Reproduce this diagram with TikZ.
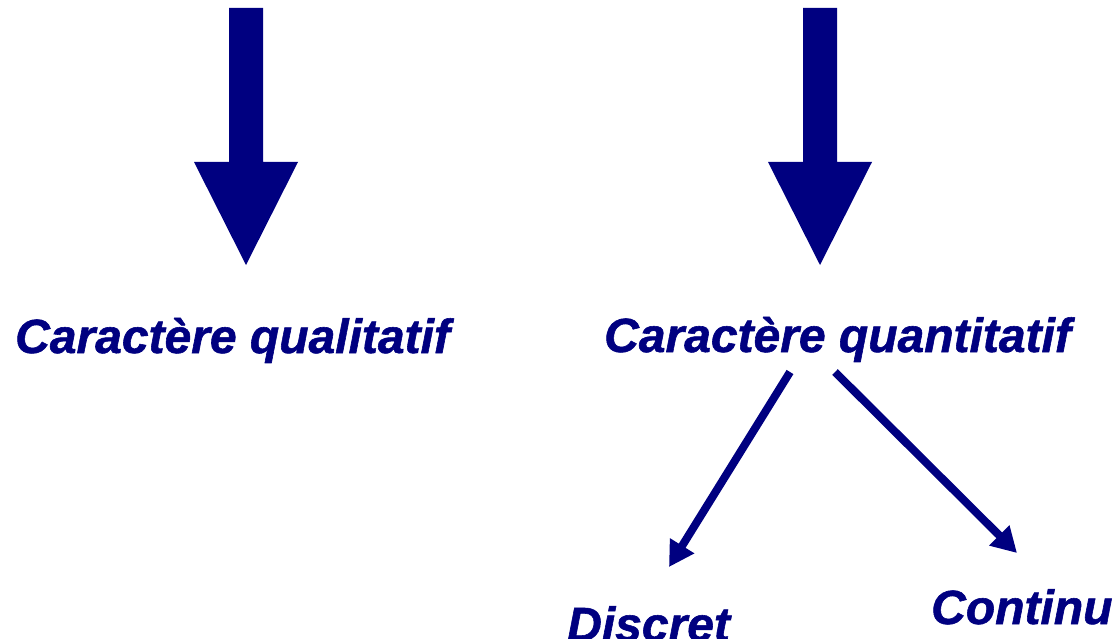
\documentclass[tikz,border=0pt]{standalone}
\usepackage{fontspec}
\setmainfont{Liberation Sans}[BoldItalicFeatures={FakeBold=1.2}]
\usetikzlibrary{arrows.meta}
\definecolor{navyblue}{RGB}{0,0,128}
\begin{document}
\begin{tikzpicture}[x=1pt,y=-1pt,
  label text/.style={anchor=base west,inner sep=0pt,text=navyblue,
    font=\fontsize{48}{56}\selectfont\bfseries\itshape},
  big arrow/.style={fill=navyblue,draw=none},
  thin arrow/.style={draw=navyblue,line width=8pt,
    -{Triangle[length=25pt,width=27pt]}}]
\useasboundingbox (0,0) rectangle (1119,639);
% big block arrows
\fill[big arrow] (229,8) -- (263,8) -- (263,162) -- (298,162) -- (246,265)
  -- (194,162) -- (229,162) -- cycle;
\fill[big arrow] (803,8) -- (837,8) -- (837,162) -- (872,162) -- (820,265)
  -- (768,162) -- (803,162) -- cycle;
% labels
\node[label text] (qual) at (15,353) {Caractère qualitatif};
\node[label text] (quant) at (604,352) {Caractère quantitatif};
\node[label text] (disc) at (567,641) {Discret};
\node[label text] (cont) at (931,624) {Continu};
% connectors
\coordinate (s1) at (790,372);
\coordinate (e1) at (669,567);
\coordinate (s2) at (835,372);
\coordinate (e2) at (1017,553);
\draw[thin arrow] (s1) -- (e1);
\draw[thin arrow] (s2) -- (e2);
\end{tikzpicture}
\end{document}
